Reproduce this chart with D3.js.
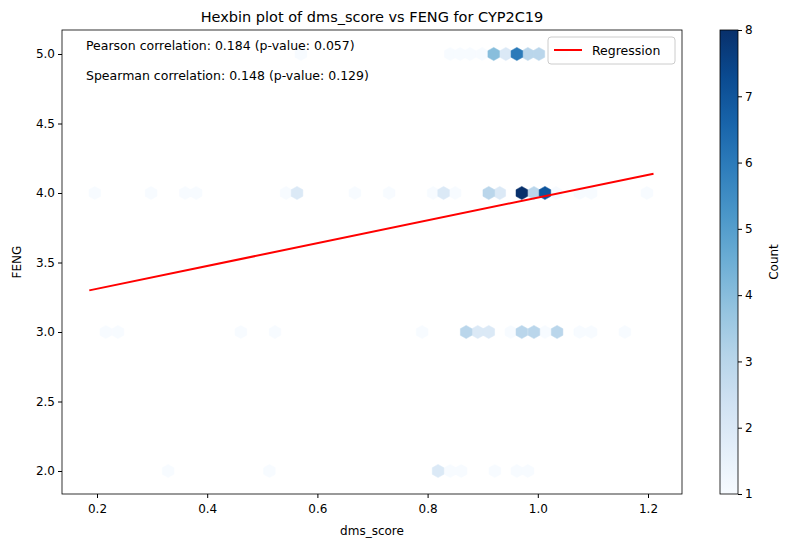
<!DOCTYPE html>
<html><head><meta charset="utf-8">
<script src="https://cdn.jsdelivr.net/npm/d3@7"></script>
<style>body{margin:0;background:#fff}text{font-family:"DejaVu Sans",sans-serif;fill:#000}</style>
</head><body><svg id="c" width="791" height="547"></svg>
<script>
// hex bins: [dms_score, count] per FENG row
const row5 = [[0.57,1],[0.841,1],[0.859,1],[0.877,1],[0.899,1],[0.920,4],[0.942,2],[0.962,6],[0.982,3],[1.002,3],[1.044,1]];
const row4 = [[0.196,1],[0.298,1],[0.360,1],[0.380,1],[0.543,1],[0.563,2],[0.668,1],[0.730,1],[0.810,1],[0.829,2],[0.850,1],[0.911,3],[0.931,2],[0.971,8],[0.993,3],[1.013,7],[1.033,1],[1.076,1],[1.097,1],[1.198,1]];
const row3 = [[0.216,1],[0.238,1],[0.461,1],[0.523,1],[0.790,1],[0.870,3],[0.891,2],[0.911,2],[0.951,1],[0.971,3],[0.993,3],[1.013,1],[1.035,3],[1.076,1],[1.097,1],[1.158,1]];
const row2 = [[0.329,1],[0.513,1],[0.819,2],[0.841,1],[0.861,1],[0.922,1],[0.962,1],[0.982,1]];
const regression = {slope: 0.82, intercept: 3.147, xmin: 0.186, xmax: 1.21};
const xTicks = [0.2,0.4,0.6,0.8,1.0,1.2];
const yTicks = [2.0,2.5,3.0,3.5,4.0,4.5,5.0];
const cTicks = [1,2,3,4,5,6,7,8];

const svg = d3.select('#c');
const L=62,R=682,T=30,B=494;
const x = d3.scaleLinear().domain([0.2,1.2]).range([97,648]);
const y = d3.scaleLinear().domain([2,5]).range([471,54]);
const color = d3.scaleSequential(d3.interpolateBlues).domain([1,8]);

const bins = [];
[[5,row5],[4,row4],[3,row3],[2,row2]].forEach(([fy,r])=>r.forEach(d=>bins.push({x:d[0],y:fy,c:d[1]})));
const hw=5.8, hh=6.6;
const hex = `M0,${-hh}L${hw},${-hh/2}L${hw},${hh/2}L0,${hh}L${-hw},${hh/2}L${-hw},${-hh/2}Z`;
svg.append('g').selectAll('path').data(bins.sort((a,b)=>a.c-b.c)).join('path')
  .attr('d',hex).attr('transform',d=>`translate(${x(d.x)},${y(d.y)})`)
  .attr('fill',d=>color(d.c)).attr('stroke',d=>color(d.c)).attr('stroke-width',0.5);

svg.append('line').attr('x1',x(regression.xmin)).attr('y1',y(regression.intercept+regression.slope*regression.xmin))
  .attr('x2',x(regression.xmax)).attr('y2',y(regression.intercept+regression.slope*regression.xmax))
  .attr('stroke','red').attr('stroke-width',2);

svg.append('rect').attr('x',L).attr('y',T).attr('width',R-L).attr('height',B-T).attr('fill','none').attr('stroke','#000').attr('stroke-width',0.8);
const xa = svg.append('g').attr('transform',`translate(0,${B})`).call(d3.axisBottom(x).tickValues(xTicks).tickFormat(d3.format('.1f')).tickSize(4).tickSizeOuter(0));
const ya = svg.append('g').attr('transform',`translate(${L},0)`).call(d3.axisLeft(y).tickValues(yTicks).tickFormat(d3.format('.1f')).tickSize(4).tickSizeOuter(0));
[xa,ya].forEach(a=>{a.select('.domain').remove();a.selectAll('text').attr('font-size',12).attr('font-family','DejaVu Sans');});
xa.selectAll('text').attr('dy','1.0em');

svg.append('text').attr('x',(L+R)/2).attr('y',22).attr('text-anchor','middle').attr('font-size',14.5).text('Hexbin plot of dms_score vs FENG for CYP2C19');
svg.append('text').attr('x',(L+R)/2).attr('y',535).attr('text-anchor','middle').attr('font-size',12).text('dms_score');
svg.append('text').attr('transform',`translate(21,${(T+B)/2}) rotate(-90)`).attr('text-anchor','middle').attr('font-size',12).text('FENG');
svg.append('text').attr('x',86).attr('y',50).attr('font-size',12.5).text('Pearson correlation: 0.184 (p-value: 0.057)');
svg.append('text').attr('x',86).attr('y',80).attr('font-size',12.5).text('Spearman correlation: 0.148 (p-value: 0.129)');

// legend
svg.append('rect').attr('x',548).attr('y',37).attr('width',127).attr('height',27).attr('rx',3).attr('fill','#fff').attr('fill-opacity',0.8).attr('stroke','#ccc');
svg.append('line').attr('x1',554).attr('x2',582).attr('y1',50).attr('y2',50).attr('stroke','red').attr('stroke-width',2);
svg.append('text').attr('x',592).attr('y',55).attr('font-size',12.5).text('Regression');

// colorbar
const cs = d3.scaleLinear().domain([1,8]).range([B,T]);
const defs = svg.append('defs').append('linearGradient').attr('id','g').attr('x1',0).attr('x2',0).attr('y1',1).attr('y2',0);
d3.range(0,1.01,0.1).forEach(t=>defs.append('stop').attr('offset',t).attr('stop-color',color(1+7*t)));
svg.append('rect').attr('x',720).attr('y',T).attr('width',18).attr('height',B-T).attr('fill','url(#g)').attr('stroke','#000').attr('stroke-width',0.8);
const ca = svg.append('g').attr('transform','translate(738,0)').call(d3.axisRight(cs).tickValues(cTicks).tickFormat(d3.format('d')).tickSize(4).tickSizeOuter(0));
ca.select('.domain').remove(); ca.selectAll('text').attr('font-size',12);
svg.append('text').attr('transform',`translate(778,${(T+B)/2}) rotate(-90)`).attr('text-anchor','middle').attr('font-size',12).text('Count');
</script></body></html>
